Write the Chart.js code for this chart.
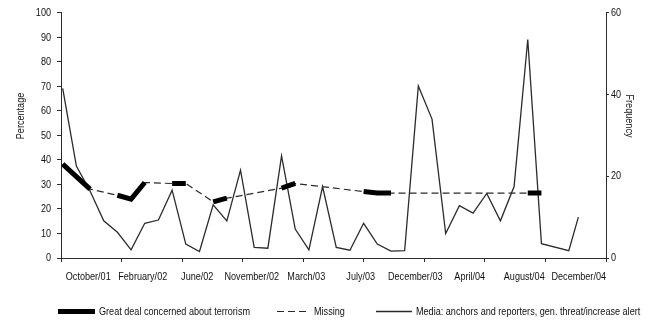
<!DOCTYPE html>
<html>
<head>
<meta charset="utf-8">
<script src="https://cdn.jsdelivr.net/npm/chart.js@4.4.1/dist/chart.umd.min.js"></script>
<style>
  html, body { margin: 0; padding: 0; background: #fff; }
  #wrap { width: 649px; height: 324px; position: relative; }
</style>
</head>
<body>
<div id="wrap"><canvas id="c" width="649" height="324"></canvas></div>
<script>
// Period labels shown under the time axis
const periodLabels = ['October/01', 'February/02', 'June/02', 'November/02', 'March/03',
  'July/03', 'December/03', 'April/04', 'August/04', 'December/04'];

// Survey: share saying they are a great deal concerned about terrorism (%).
// Months are counted from October 2001 (= 0).
const concernMonths = [0, 1, 2, 4, 5, 6, 8, 9, 11, 12, 16, 17, 22, 23, 24, 34, 35];
const concernPct = [38.3, 33.2, 28.1, 25.6, 24.0, 30.8, 30.4, 30.4, 22.9, 24.4, 28.5, 30.4, 27.1, 26.5, 26.5, 26.5, 26.5];

// Media stories: anchors and reporters, general threat / increased alert (count per month)
const mediaMonths = [0, 1, 2, 3, 4, 5, 6, 7, 8, 9, 10, 11, 12, 13, 14, 15, 16, 17, 18, 19,
  20, 21, 22, 23, 24, 25, 26, 27, 28, 29, 30, 31, 32, 33, 34, 35, 37, 37.7];
const mediaFreq = [41.5, 22.5, 16.4, 9.1, 6.3, 2.0, 8.5, 9.3, 16.6, 3.4, 1.6, 13.0, 9.1, 21.5, 2.6, 2.4, 25.0, 7.1, 2.0, 17.5,
  2.6, 1.9, 8.5, 3.4, 1.7, 1.8, 42.1, 34.0, 6.0, 12.8, 11.0, 15.8, 9.1, 17.5, 53.5, 3.5, 1.8, 10.0];

const FONT = "'Liberation Sans', Arial, sans-serif";
const FONT_SIZE = 11.5;
const INK = '#111';
const LINE = '#2b2b2b';

// Condensed lettering: every label on this canvas is drawn horizontally narrowed
const canvas = document.getElementById('c');
const ctx2d = canvas.getContext('2d');
ctx2d.font = FONT_SIZE + 'px ' + FONT;
const SQUEEZE = 151 / ctx2d.measureText('Great deal concerned about terrorism').width;
const plainFillText = ctx2d.fillText.bind(ctx2d);
ctx2d.fillText = function (text, x, y) {
  this.save();
  this.translate(x, y);
  this.scale(SQUEEZE, 1);
  plainFillText(text, 0, 0);
  this.restore();
};

// Thick series: break the line wherever a month has no survey reading
const concernSegments = [];
concernMonths.forEach((m, i) => {
  if (i > 0 && m - concernMonths[i - 1] > 1) concernSegments.push({ x: (m + concernMonths[i - 1]) / 2, y: null });
  concernSegments.push({ x: m, y: concernPct[i] });
});
// Dashed series: the same readings joined across the months without data
const concernJoined = concernMonths.map((m, i) => ({ x: m, y: concernPct[i] }));
const mediaPoints = mediaMonths.map((m, i) => ({ x: m, y: mediaFreq[i] }));

const X_MIN = -0.124, X_MAX = 39.72;

// Key drawn along the bottom edge
const keyPlugin = {
  id: 'bottomKey',
  afterDraw(chart) {
    const ctx = chart.ctx;
    const y = 311.5;
    const starts = [58, 277, 376];
    const lens = [37, 33, 36];
    chart.data.datasets.forEach((ds, i) => {
      const x0 = starts[i], len = lens[i];
      ctx.save();
      ctx.strokeStyle = ds.borderColor;
      ctx.lineWidth = ds.borderWidth;
      ctx.setLineDash(ds.borderDash || []);
      ctx.beginPath();
      ctx.moveTo(x0, y);
      ctx.lineTo(x0 + len, y);
      ctx.stroke();
      ctx.setLineDash([]);
      ctx.fillStyle = INK;
      ctx.font = FONT_SIZE + 'px ' + FONT;
      ctx.textBaseline = 'middle';
      ctx.textAlign = 'left';
      ctx.fillText(ds.label, x0 + len + 4, y + 0.5);
      ctx.restore();
    });
  }
};

// Rotated axis captions beside the two value axes
function caption(ctx, text, x, y, angle) {
  ctx.save();
  ctx.fillStyle = INK;
  ctx.font = FONT_SIZE + 'px ' + FONT;
  ctx.textAlign = 'center';
  ctx.textBaseline = 'middle';
  ctx.translate(x, y);
  ctx.rotate(angle);
  ctx.fillText(text, 0, 0);
  ctx.restore();
}
const captionPlugin = {
  id: 'axisCaptions',
  afterDraw(chart) {
    caption(chart.ctx, 'Percentage', 21, 116, -Math.PI / 2);
    caption(chart.ctx, 'Frequency', 629, 116, Math.PI / 2);
  }
};

const tickFont = { family: FONT, size: FONT_SIZE };

new Chart(canvas, {
  type: 'line',
  data: {
    datasets: [
      {
        label: 'Great deal concerned about terrorism',
        data: concernSegments,
        xAxisID: 'x', yAxisID: 'y',
        borderColor: '#000', borderWidth: 5, borderCapStyle: 'butt',
        pointRadius: 0, spanGaps: false, tension: 0
      },
      {
        label: 'Missing',
        data: concernJoined,
        xAxisID: 'x', yAxisID: 'y',
        borderColor: LINE, borderWidth: 1.2, borderDash: [7, 4],
        pointRadius: 0, spanGaps: true, tension: 0
      },
      {
        label: 'Media: anchors and reporters, gen. threat/increase alert',
        data: mediaPoints,
        xAxisID: 'x', yAxisID: 'y2',
        borderColor: LINE, borderWidth: 1.3,
        pointRadius: 0, tension: 0
      }
    ]
  },
  options: {
    responsive: false,
    animation: false,
    devicePixelRatio: 1,
    layout: { padding: { top: 12, bottom: 25, left: 0, right: 0 } },
    plugins: { legend: { display: false }, tooltip: { enabled: false } },
    scales: {
      x: {
        type: 'linear', position: 'bottom', min: X_MIN, max: X_MAX,
        afterBuildTicks: (s) => {
          const t = [];
          for (let i = 0; i < periodLabels.length; i++) t.push({ value: X_MIN + (X_MAX - X_MIN) * i / (periodLabels.length - 1) });
          s.ticks = t;
        },
        ticks: { display: false },
        grid: { drawOnChartArea: false, tickLength: 4, color: LINE, lineWidth: 1 },
        border: { color: LINE, width: 1 }
      },
      xl: {
        type: 'category', position: 'bottom', labels: periodLabels, offset: true,
        grid: { display: false }, border: { display: false },
        ticks: { autoSkip: false, maxRotation: 0, minRotation: 0, padding: 0, color: INK, font: tickFont },
        afterFit: (s) => { s.height = 37; }
      },
      y: {
        type: 'linear', position: 'left', min: 0, max: 100,
        ticks: { stepSize: 10, padding: 6, color: INK, font: tickFont },
        grid: { drawOnChartArea: false, tickLength: 4, color: LINE },
        border: { color: LINE, width: 1 },
        afterFit: (s) => { s.width = 61; }
      },
      y2: {
        type: 'linear', position: 'right', min: 0, max: 60,
        ticks: { stepSize: 20, padding: 2, color: INK, font: tickFont },
        grid: { drawOnChartArea: false, tickLength: 3, color: LINE },
        border: { color: LINE, width: 1 },
        afterFit: (s) => { s.width = 43; }
      }
    }
  },
  plugins: [keyPlugin, captionPlugin]
});
</script>
</body>
</html>
